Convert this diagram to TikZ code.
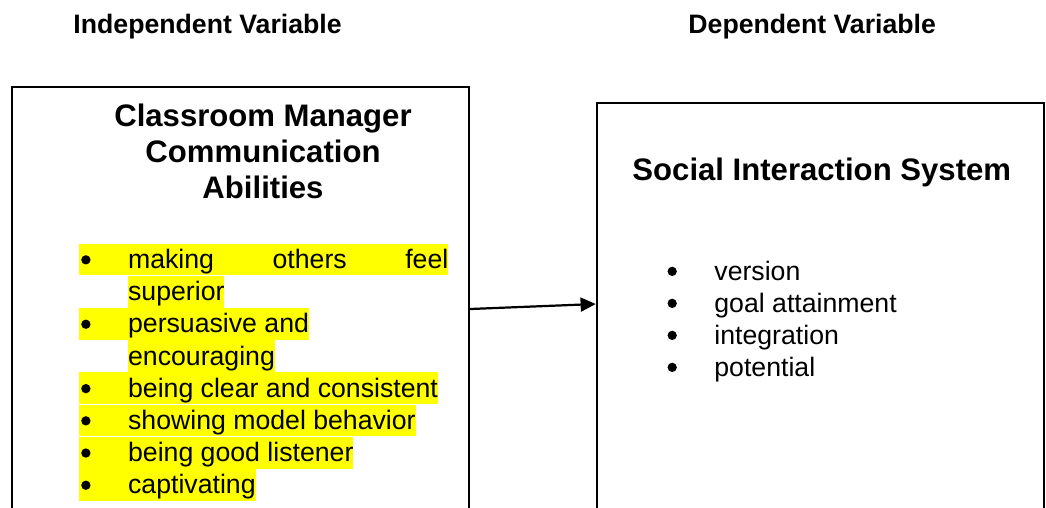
\documentclass[tikz,border=0pt]{standalone}
\usepackage{fontspec}
\setmainfont{Liberation Sans}
\usetikzlibrary{arrows.meta, positioning}
\definecolor{markc}{HTML}{FFFF00}
% round bullet with its hanging indent
\newcommand{\bul}{\makebox[21.9pt][l]{\hspace{0.8pt}%
  \tikz[baseline=0pt]\fill[black] (0pt,3.9pt) circle[radius=2.1pt];}}

\begin{document}
\begin{tikzpicture}[x=0.45pt, y=-0.45pt,
  box/.style={draw, line width=1.1pt, inner sep=0pt},
  head/.style={anchor=base west, inner sep=0pt, font=\fontsize{12}{14}\selectfont\bfseries},
  ttl/.style={anchor=base, inner sep=0pt, font=\fontsize{14}{16}\selectfont\bfseries},
  item/.style={anchor=base west, inner sep=0pt, font=\fontsize{12}{14}\selectfont},
  hl/.style={item, fill=markc, text height=11.2pt, text depth=3.1pt},
  link/.style={-{Triangle[length=6.8pt, width=6.3pt]}, line width=1pt}]
  \useasboundingbox (0,0) rectangle (1046,507);
  \clip (0,0) rectangle (1046,507);
  % headings
  \node[head] (indep) at (73,33) {Independent Variable};
  \node[head] (dep) at (688,33) {Dependent Variable};
  % the two boxes, running off the bottom
  \node[box, minimum width=205.6pt, minimum height=199.8pt] (cause) at (240.5,309) {};
  \node[box, minimum width=201.2pt, minimum height=198.9pt] (effect) at (820.5,324) {};
  % left box
  \node[ttl] (ttl1) at (263,126) {Classroom Manager};
  \node[ttl] (ttl2) at (263,162) {Communication};
  \node[ttl] (ttl3) at (263,198) {Abilities};
  \node[hl] (a1) at (79,268.5) {\bul\makebox[144.1pt][s]{making\hfill others\hfill feel}};
  \node[hl] (a1b) at (127.7,300.7) {superior};
  \node[hl] (a2) at (79,332.9) {\bul persuasive and};
  \node[hl] (a2b) at (127.7,365.1) {encouraging};
  \node[hl] (a3) at (79,397.3) {\bul being clear and consistent};
  \node[hl] (a4) at (79,429.5) {\bul showing model behavior};
  \node[hl] (a5) at (79,461.7) {\bul being good listener};
  \node[hl] (a6) at (79,493.9) {\bul captivating};
  % right box
  \node[ttl, anchor=base west] (ttl4) at (632,180) {Social Interaction System};
  \node[item] (b1) at (665.3,280) {\bul version};
  \node[item] (b2) at (665.3,312) {\bul goal attainment};
  \node[item] (b3) at (665.3,344) {\bul integration};
  \node[item] (b4) at (665.3,376) {\bul potential};
  \draw[link] (cause.east) -- ([yshift=9pt]effect.west);
\end{tikzpicture}
\end{document}
